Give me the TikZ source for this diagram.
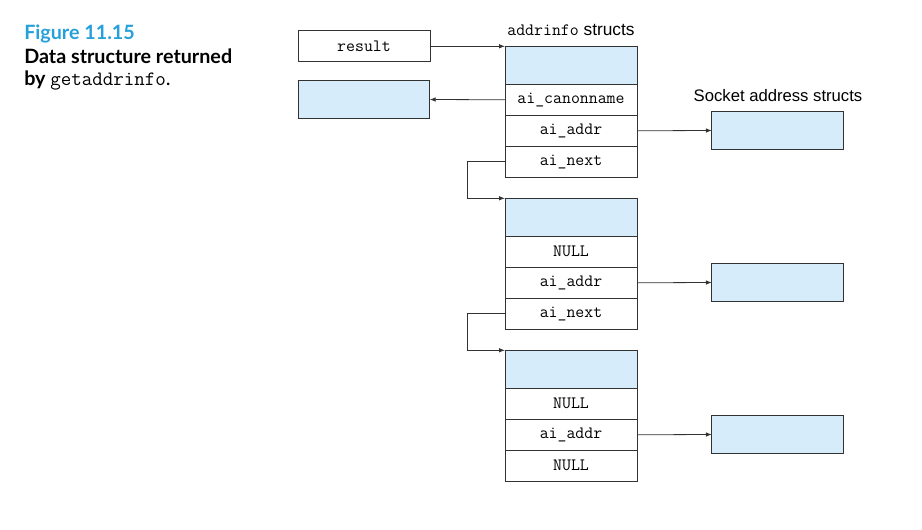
\documentclass[tikz,border=0pt]{standalone}
\usepackage{fontspec}
\newfontfamily\capfont{Lato}
\newfontfamily\helvfont{Liberation Sans}
\definecolor{cellblue}{RGB}{214,236,250}
\definecolor{figblue}{RGB}{38,160,218}
\definecolor{linegray}{RGB}{50,50,50}
\usetikzlibrary{arrows.meta, positioning}

\begin{document}
\begin{tikzpicture}[
    x=0.75pt, y=-0.75pt,
    cell/.style={draw=linegray, line width=0.7pt, outer sep=0pt, minimum width=99pt, minimum height=23.25pt, inner sep=0pt, font=\fontsize{13}{15}\ttfamily},
    headcell/.style={cell, fill=cellblue, minimum height=28.5pt},
    sockbox/.style={draw=linegray, line width=0.7pt, fill=cellblue, outer sep=0pt, minimum width=98.5pt, minimum height=28pt},
    link/.style={draw=linegray, line width=0.6pt, -{Latex[length=4.5pt, width=3.4pt]}}
]
    \useasboundingbox (0,0) rectangle (922,530);

    % caption
    \node[font=\fontsize{14.8}{17}\capfont\bfseries, figblue, anchor=base west, inner sep=0pt] (figno) at (24,40) {Figure 11.15};
    \node[font=\fontsize{14.8}{17}\capfont\bfseries, anchor=base west, inner sep=0pt] (captitle) at (24,64) {Data structure returned};
    \node[font=\fontsize{14.8}{17}\capfont\bfseries, anchor=base west, inner sep=0pt] (capby) at (24,86) {by \mdseries\fontsize{15.3}{17}\ttfamily getaddrinfo\capfont.};

    % result and canonical name
    \node[cell, minimum width=99pt] (result) at (364,46.3) {result};
    \node[sockbox] (canon) at (364,99.5) {};

    % first addrinfo struct
    \node[font=\fontsize{12.5}{15}\helvfont] (addrlabel) at (571,30) {\fontsize{13}{15}\ttfamily addrinfo\helvfont{} structs};
    \node[headcell] (s1top) at (571,65.3) {};
    \node[cell, below=0pt of s1top] (s1name) {ai\_canonname};
    \node[cell, below=0pt of s1name] (s1addr) {ai\_addr};
    \node[cell, below=0pt of s1addr] (s1next) {ai\_next};

    % second addrinfo struct
    \node[headcell] (s2top) at (571,217.3) {};
    \node[cell, below=0pt of s2top] (s2name) {NULL};
    \node[cell, below=0pt of s2name] (s2addr) {ai\_addr};
    \node[cell, below=0pt of s2addr] (s2next) {ai\_next};

    % third addrinfo struct
    \node[headcell] (s3top) at (571,369.3) {};
    \node[cell, below=0pt of s3top] (s3name) {NULL};
    \node[cell, below=0pt of s3name] (s3addr) {ai\_addr};
    \node[cell, below=0pt of s3addr] (s3next) {NULL};

    % socket address structs
    \node[font=\fontsize{12.5}{15}\helvfont] (socklabel) at (778,96) {Socket address structs};
    \node[sockbox] (sock1) at (777.5,130.5) {};
    \node[sockbox] (sock2) at (777.5,282.5) {};
    \node[sockbox] (sock3) at (777.5,434.5) {};

    % pointers
    \draw[link] (result.east) -- (s1top.north west);
    \draw[link] (s1name.west) -- (canon.east);
    \draw[link] (s1addr.east) -- (sock1.west);
    \draw[link] (s2addr.east) -- (sock2.west);
    \draw[link] (s3addr.east) -- (sock3.west);
    \draw[link] (s1next.west) -- ++(-38,0) |- (s2top.north west);
    \draw[link] (s2next.west) -- ++(-38,0) |- (s3top.north west);
\end{tikzpicture}
\end{document}
